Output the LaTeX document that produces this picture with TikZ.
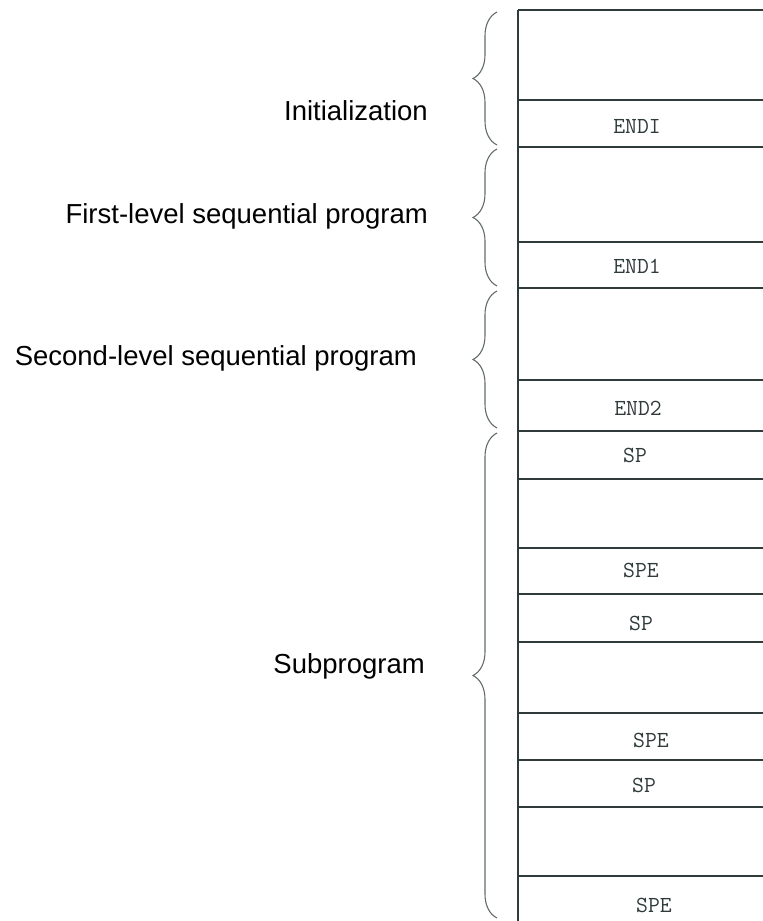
\documentclass[tikz,border=0pt]{standalone}
\usepackage{fontspec}
\setmainfont{Liberation Sans}
\usepackage{tikz}
\usetikzlibrary{decorations.pathreplacing}
\definecolor{ink}{HTML}{2F3A3A}

\begin{document}
\begin{tikzpicture}[x=1pt,y=-1pt,
    part/.style={font=\fontsize{27.5}{30}\selectfont,anchor=base east,inner sep=0pt},
    tag/.style={font=\ttfamily\fontsize{23}{25}\selectfont,anchor=base,inner sep=0pt,text=ink},
    bar/.style={draw=ink,line width=2pt},
    sep/.style={draw=ink,line width=1.2pt},
    curly/.style={draw=ink!75,line width=1.1pt,decorate,decoration={brace,amplitude=24pt}}]
        \useasboundingbox (0,0) rectangle (763,921);
        % memory box
        \draw[bar,line width=1.6pt] (518,921) -- (518,10);
        \foreach \y in {10,147,288,431,594,760} \draw[bar] (518,\y) -- (763,\y);
        \foreach \y in {100,242,380,479,548,642,713,807,876} \draw[sep] (518,\y) -- (763,\y);
        % end markers
        \foreach \t/\x/\y [count=\i] in {ENDI/637/133,END1/637/273,END2/638/415,
                SP/635/462,SPE/641/577,SP/641/630,SPE/651/747,SP/644/792,SPE/654/912}
          \node[tag] (tag\i) at (\x,\y) {\t};
        % braces
        \foreach \a/\b [count=\i] in {145/12,286/149,428/291,918/433}
          \draw[curly] (497,\a) -- (497,\b);
        % part names
        \node[part] (init) at (428,120) {Initialization};
        \node[part] (lvl1) at (428,223) {First-level sequential program};
        \node[part] (lvl2) at (417,365) {Second-level sequential program};
        \node[part] (sub) at (425,673) {Subprogram};
      \end{tikzpicture}
\end{document}
